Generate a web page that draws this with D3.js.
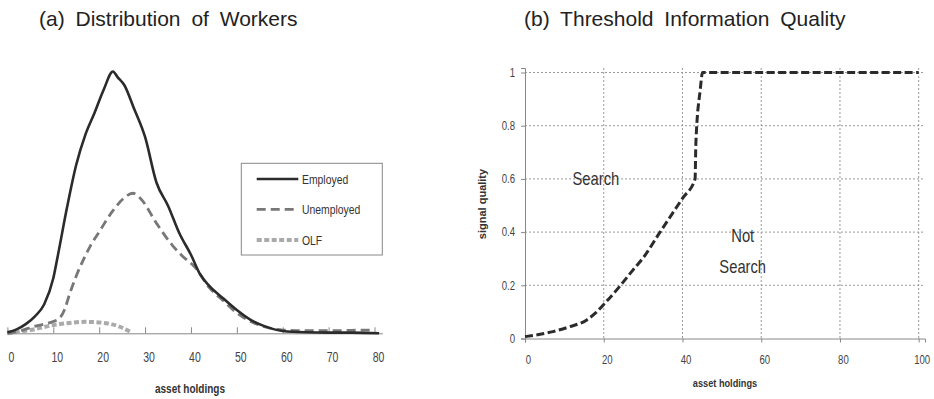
<!DOCTYPE html>
<html>
<head>
<meta charset="utf-8">
<script src="https://cdn.jsdelivr.net/npm/d3@7"></script>
<style>
  body { margin: 0; background: #fff; }
  svg { display: block; font-family: "Liberation Sans", Arial, sans-serif; }
</style>
</head>
<body>
<div id="viz"></div>
<script>
// (a) distribution of workers over asset holdings
var empAsset = [0, 2, 4, 6, 8, 10, 11, 13, 15, 17, 19, 21, 23, 24, 25.5, 27.5, 30, 32.5, 35, 37.5, 40, 42, 44, 47, 50, 53, 56, 60, 65, 70, 75, 81];
var empShare = [0.03, 0.12, 0.28, 0.52, 0.88, 1.68, 2.38, 3.85, 5.15, 6.07, 6.74, 7.45, 8.0, 7.83, 7.58, 6.9, 6.0, 4.6, 3.9, 3.05, 2.4, 1.8, 1.45, 1.07, 0.71, 0.41, 0.22, 0.07, 0.03, 0.02, 0.02, 0];

var unempAsset = [0, 3, 5.5, 8, 10, 11.5, 12.5, 13.6, 15, 16.5, 18, 20, 23, 25.3, 27.3, 29, 32.5, 36, 38, 41, 44, 47, 50, 53, 56, 60, 65, 70, 75, 78, 80];
var unempShare = [0, 0.08, 0.2, 0.28, 0.36, 0.48, 0.74, 1.22, 1.75, 2.23, 2.65, 3.1, 3.75, 4.12, 4.28, 4.12, 3.36, 2.68, 2.38, 2.0, 1.4, 1.0, 0.62, 0.36, 0.2, 0.1, 0.08, 0.08, 0.09, 0.1, 0.08];

var olfAsset = [0, 5, 10, 13, 17, 21.5, 24.5, 27];
var olfShare = [0, 0.1, 0.25, 0.31, 0.35, 0.31, 0.2, 0.03];

var ticksA = [0, 10, 20, 30, 40, 50, 60, 70, 80];
var legendNames = ['Employed', 'Unemployed', 'OLF'];

// (b) threshold signal quality
var threshAsset = [0, 3.5, 7.1, 11.3, 15.6, 18, 20, 24, 27.4, 30, 34.3, 37, 40, 43.2, 43.4, 44.5, 45.1, 100];
var threshQual = [0.007, 0.015, 0.026, 0.044, 0.069, 0.097, 0.128, 0.195, 0.257, 0.303, 0.40, 0.46, 0.527, 0.60, 0.734, 0.934, 1.0, 1.0];

var ticksBx = [0, 20, 40, 60, 80, 100];
var ticksBy = [0, 0.2, 0.4, 0.6, 0.8, 1];
var labelsBy = ['0', '0.2', '0.4', '0.6', '0.8', '1'];

var width = 934, height = 399;

var svg = d3.select('#viz').append('svg')
    .attr('width', width)
    .attr('height', height)
    .style('background', '#fff');

// the chart body is drawn horizontally squeezed, so squeeze the text too
function squeeze(sel, sx, dx) {
    sel.each(function() {
        var t = d3.select(this);
        var x = (+t.attr('x') || 0) + (dx || 0);
        t.attr('transform', 'translate(' + x + ',0) scale(' + sx + ',1)').attr('x', 0);
    });
}

function addText(x, y, str, o) {
    var g = svg.append('g').attr('transform', 'translate(' + x + ',' + y + ')' + (o.rotate ? ' rotate(' + o.rotate + ')' : ''));
    return g.append('text')
        .attr('transform', 'scale(' + (o.sx || 1) + ',1)')
        .attr('text-anchor', o.anchor || 'middle')
        .attr('dominant-baseline', o.baseline || 'auto')
        .attr('fill', o.fill || '#333')
        .style('font-size', o.size + 'px')
        .style('font-weight', o.weight || 'normal')
        .text(str);
}

// titles
svg.append('text').attr('x', 39).attr('y', 26)
    .style('font-size', '21px').style('word-spacing', '5px').attr('fill', '#222')
    .text('(a) Distribution of Workers');
svg.append('text').attr('x', 524).attr('y', 26)
    .style('font-size', '21px').style('word-spacing', '5px').attr('fill', '#222')
    .text('(b) Threshold Information Quality');

// ---------- panel (a) ----------
var xA = d3.scaleLinear().domain([0, 81.7]).range([7.4, 382.3]);
var yA = d3.scaleLinear().domain([0, 8]).range([333.3, 71.5]);

var axA = svg.append('g')
    .attr('transform', 'translate(0,' + yA(0) + ')')
    .call(d3.axisBottom(xA).tickValues(ticksA).tickSizeInner(-6).tickSizeOuter(0).tickPadding(18.5));
axA.select('.domain').attr('stroke', '#888');
axA.selectAll('.tick line').attr('stroke', '#888');
axA.selectAll('.tick text').attr('fill', '#444').style('font-size', '14px').style('font-family', null);
squeeze(axA.selectAll('.tick text'), 0.75, 3.5);

var lineA = function(xs) {
    return d3.line()
        .x(function(d, i) { return xA(xs[i]); })
        .y(function(d) { return yA(d); })
        .curve(d3.curveMonotoneX);
};

var seriesA = [
    { name: 'OLF', xs: olfAsset, ys: olfShare, color: '#aaa', w: 4, dash: '5,2.5' },
    { name: 'Unemployed', xs: unempAsset, ys: unempShare, color: '#777', w: 2.8, dash: '9,5' },
    { name: 'Employed', xs: empAsset, ys: empShare, color: '#2b2b2b', w: 2.6, dash: null }
];

svg.selectAll('path.seriesA').data(seriesA)
    .enter().append('path')
    .attr('class', 'seriesA')
    .attr('fill', 'none')
    .attr('stroke', function(d) { return d.color; })
    .attr('stroke-width', function(d) { return d.w; })
    .attr('stroke-dasharray', function(d) { return d.dash; })
    .attr('d', function(d) { return lineA(d.xs)(d.ys); });

addText(190, 393, 'asset holdings', { size: 13, weight: 'bold', sx: 0.77, fill: '#333' });

// legend
var leg = svg.append('g');
leg.append('rect')
    .attr('x', 241.3).attr('y', 163.3)
    .attr('width', 141).attr('height', 91.7)
    .attr('fill', '#fff').attr('stroke', '#888');

var legendY = [179, 209.3, 240];
legendNames.forEach(function(name, i) {
    var s = seriesA.filter(function(d) { return d.name === name; })[0];
    leg.append('line')
        .attr('x1', 256.7).attr('x2', 298.3)
        .attr('y1', legendY[i]).attr('y2', legendY[i])
        .attr('stroke', s.color)
        .attr('stroke-width', s.w)
        .attr('stroke-dasharray', s.dash);
    addText(302, legendY[i], name, { size: 13, sx: 0.8, anchor: 'start', baseline: 'central', fill: '#333' });
});

// ---------- panel (b) ----------
var xB = d3.scaleLinear().domain([0, 101.6]).range([525, 925]);
var yB = d3.scaleLinear().domain([0, 1.017]).range([338.5, 68]);

// dotted grid
svg.selectAll('line.vgrid').data(ticksBx.slice(1))
    .enter().append('line')
    .attr('class', 'vgrid')
    .attr('x1', function(d) { return xB(d); })
    .attr('x2', function(d) { return xB(d); })
    .attr('y1', yB.range()[1])
    .attr('y2', yB(0))
    .attr('stroke', '#999')
    .attr('stroke-dasharray', '2,2');

svg.selectAll('line.hgrid').data(ticksBy.slice(1))
    .enter().append('line')
    .attr('class', 'hgrid')
    .attr('x1', xB(0))
    .attr('x2', xB.range()[1] - 1.3)
    .attr('y1', function(d) { return yB(d); })
    .attr('y2', function(d) { return yB(d); })
    .attr('stroke', '#999')
    .attr('stroke-dasharray', '2,2');

var axBx = svg.append('g')
    .attr('transform', 'translate(0,' + yB(0) + ')')
    .call(d3.axisBottom(xB).tickValues(ticksBx).tickSize(4).tickPadding(12.5));
var axBy = svg.append('g')
    .attr('transform', 'translate(' + xB(0) + ',0)')
    .call(d3.axisLeft(yB).tickValues(ticksBy).tickFormat(function(d, i) { return labelsBy[i]; }).tickSize(4).tickPadding(6));

[axBx, axBy].forEach(function(ax) {
    ax.select('.domain').attr('stroke', '#888');
    ax.selectAll('.tick line').attr('stroke', '#888');
    ax.selectAll('.tick text').attr('fill', '#444').style('font-size', '12px').style('font-family', null);
});
squeeze(axBx.selectAll('.tick text'), 0.8, 3);
squeeze(axBy.selectAll('.tick text'), 0.8, 0);

svg.append('path')
    .datum(threshQual)
    .attr('fill', 'none')
    .attr('stroke', '#2b2b2b')
    .attr('stroke-width', 3)
    .attr('stroke-dasharray', '8,3.5')
    .attr('d', d3.line()
        .x(function(d, i) { return xB(threshAsset[i]); })
        .y(function(d) { return yB(d); })
        .curve(d3.curveMonotoneX));

addText(xB(18), yB(0.577), 'Search', { size: 18, sx: 0.82, fill: '#333' });
addText(xB(55.3), yB(0.364), 'Not', { size: 18, sx: 0.82, fill: '#333' });
addText(xB(55.3), yB(0.245), 'Search', { size: 18, sx: 0.82, fill: '#333' });

addText(725, 386.7, 'asset holdings', { size: 11.5, weight: 'bold', sx: 0.8, fill: '#333' });
addText(482, 204, 'signal quality', { size: 11, weight: 'bold', rotate: -90, baseline: 'central', fill: '#333' });
</script>
</body>
</html>
